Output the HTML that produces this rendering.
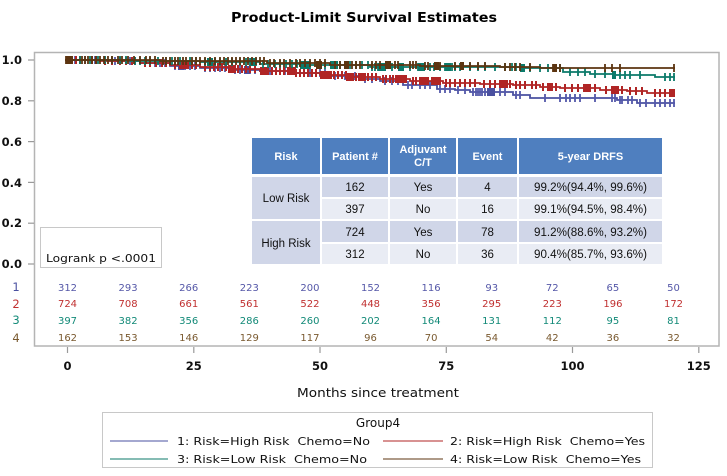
<!DOCTYPE html>
<html><head><meta charset="utf-8"><style>
html,body{margin:0;padding:0;background:#fff;width:727px;height:476px;overflow:hidden}
svg{display:block}
.t{font-family:"DejaVu Sans","Liberation Sans",sans-serif}
.tb{font-family:"Liberation Sans","DejaVu Sans",sans-serif}
text{white-space:pre}
</style></head><body>
<svg width="727" height="476" viewBox="0 0 727 476" xmlns="http://www.w3.org/2000/svg">
<text class="t" x="364" y="22" text-anchor="middle" font-size="13" font-weight="bold" textLength="266" lengthAdjust="spacingAndGlyphs">Product-Limit Survival Estimates</text>

<rect x="34.5" y="52.5" width="684.5" height="293.5" fill="none" stroke="#b4b4b4" stroke-width="1.5"/>

<g stroke="#9a9a9a" stroke-width="1.2">
<line x1="28" y1="60" x2="34" y2="60"/>
<line x1="28" y1="100.8" x2="34" y2="100.8"/>
<line x1="28" y1="141.6" x2="34" y2="141.6"/>
<line x1="28" y1="182.4" x2="34" y2="182.4"/>
<line x1="28" y1="223.2" x2="34" y2="223.2"/>
<line x1="28" y1="264" x2="34" y2="264"/>
</g>
<g class="t" font-size="11.5" font-weight="bold" text-anchor="end" fill="#111">
<text x="22" y="64">1.0</text>
<text x="22" y="105">0.8</text>
<text x="22" y="146">0.6</text>
<text x="22" y="187">0.4</text>
<text x="22" y="227">0.2</text>
<text x="22" y="268">0.0</text>
</g>

<g stroke="#9a9a9a" stroke-width="1.2">
<line x1="67.5" y1="347" x2="67.5" y2="353"/>
<line x1="193.8" y1="347" x2="193.8" y2="353"/>
<line x1="320" y1="347" x2="320" y2="353"/>
<line x1="446.3" y1="347" x2="446.3" y2="353"/>
<line x1="572.5" y1="347" x2="572.5" y2="353"/>
<line x1="698.8" y1="347" x2="698.8" y2="353"/>
</g>
<g class="t" font-size="11.5" font-weight="bold" text-anchor="middle" fill="#111">
<text x="67.5" y="370">0</text>
<text x="193.8" y="370">25</text>
<text x="320" y="370">50</text>
<text x="446.3" y="370">75</text>
<text x="572.5" y="370">100</text>
<text x="698.8" y="370">125</text>
</g>
<text class="t" x="378" y="397" text-anchor="middle" font-size="12.5" fill="#111" textLength="162" lengthAdjust="spacingAndGlyphs">Months since treatment</text>

<g fill="none" stroke-linejoin="miter">
<!-- 1 blue -->
<path stroke="#4a50a0" stroke-width="1.8" d="M65,60H110V61H140V63H170V66H200V68H230V70H260V71H293V73H330V76H360V79H380V81H403V85H437V89H455V90H470V92H513V95H530V98H617V100H637V103H675"/>
<path stroke="#5358aa" stroke-width="1.8" d="M67 56v8M70 56v8M75 56v8M85 56v8M95 56v8M105 56v8M115 57v8M120 57v8M130 57v8M135 57v8M145 59v8M150 59v8M155 59v8M160 59v8M165 59v8M175 62v8M180 62v8M185 62v8M190 62v8M195 62v8M205 64v8M210 64v8M215 64v8M220 64v8M225 64v8M235 66v8M240 66v8M250 66v8M255 66v8M265 67v8M270 67v8M280 67v8M285 67v8M290 67v8M300 69v8M310 69v8M320 69v8M325 69v8M335 72v8M345 72v8M355 72v8M365 75v8M372 75v8M385 77v8M392 77v8M398 77v8M408 81v8M412 81v8M420 81v8M425 81v8M430 81v8M440 85v8M445 85v8M450 85v8M458 86v8M465 86v8M473 88v8M476 88v8M478 88v8M480 88v8M482 88v8M485 88v8M490 88v8M500 88v8M505 88v8M516 91v8M520 91v8M545 94v8M560 94v8M566 94v8M570 94v8M575 94v8M580 94v8M595 94v8M612 94v8M615 94v8M620 96v8M622 96v8M628 96v8M632 96v8M640 99v8M646 99v8M655 99v8M660 99v8M665 99v8M670 99v8M674 99v8"/>
<rect x="487" y="88" width="8" height="8" fill="#4a50a0"/>
<rect x="178" y="62" width="6" height="8" fill="#4a50a0"/>
<rect x="244" y="66" width="6" height="8" fill="#4a50a0"/>
<!-- 2 red -->
<path stroke="#b02525" stroke-width="1.8" d="M65,60H100V61H140V63H170V65H200V67H230V69H260V71H293V73H320V75H350V77H380V79H410V81H443V83H480V84H513V85H540V87H560V88H600V90H627V91H647V93H675"/>
<path stroke="#b02525" stroke-width="2" d="M68 56v8M72 56v8M76 56v8M80 56v8M92 56v8M96 56v8M105 57v8M112 57v8M120 57v8M126 57v8M132 57v8M145 59v8M150 59v8M156 59v8M162 59v8M166 59v8M175 61v8M180 61v8M186 61v8M192 61v8M196 61v8M205 63v8M210 63v8M214 63v8M218 63v8M222 63v8M226 63v8M234 65v8M238 65v8M242 65v8M246 65v8M250 65v8M255 65v8M264 67v8M268 67v8M272 67v8M276 67v8M280 67v8M284 67v8M288 67v8M296 69v8M300 69v8M304 69v8M308 69v8M312 69v8M316 69v8M323 71v8M326 71v8M330 71v8M334 71v8M338 71v8M342 71v8M346 71v8M353 73v8M356 73v8M360 73v8M364 73v8M368 73v8M372 73v8M376 73v8M383 75v8M386 75v8M390 75v8M393 75v8M396 75v8M400 75v8M403 75v8M406 75v8M413 77v8M416 77v8M420 77v8M424 77v8M428 77v8M432 77v8M436 77v8M440 77v8M446 79v8M450 79v8M455 79v8M460 79v8M465 79v8M470 79v8M475 79v8M484 80v8M490 80v8M495 80v8M500 80v8M506 80v8M510 80v8M516 81v8M520 81v8M525 81v8M532 81v8M536 81v8M543 83v8M548 83v8M552 83v8M556 83v8M565 84v8M572 84v8M578 84v8M584 84v8M590 84v8M595 84v8M606 86v8M612 86v8M618 86v8M622 86v8M630 87v8M636 87v8M642 87v8M655 89v8M660 89v8M665 89v8M672 89v8M674 89v8"/>
<g fill="#b02525" stroke="none">
<rect x="320" y="71" width="12" height="8"/><rect x="346" y="73" width="8" height="8"/><rect x="358" y="73" width="8" height="8"/>
<rect x="288" y="67" width="8" height="8"/><rect x="421" y="77" width="7" height="8"/><rect x="432" y="77" width="9" height="8"/>
<rect x="500" y="80" width="8" height="8"/><rect x="547" y="83" width="6" height="8"/><rect x="669" y="89" width="6" height="8"/>
<rect x="181" y="61" width="8" height="8"/><rect x="228" y="65" width="8" height="8"/><rect x="260" y="67" width="8" height="8"/>
<rect x="395" y="75" width="10" height="8"/><rect x="585" y="84" width="6" height="8"/><rect x="612" y="86" width="7" height="8"/>
</g>
<!-- 3 teal -->
<path stroke="#0b7a6a" stroke-width="1.8" d="M65,60H130V61H200V62H260V64H300V65H370V67H520V68H563V72H590V74H615V75H655V77H675"/>
<path stroke="#0b7a6a" stroke-width="1.8" d="M68 56v8M71 56v8M80 56v8M90 56v8M98 56v8M105 56v8M112 56v8M120 56v8M126 56v8M135 57v8M140 57v8M145 57v8M150 57v8M158 57v8M166 57v8M172 57v8M180 57v8M190 57v8M196 57v8M205 58v8M210 58v8M215 58v8M220 58v8M226 58v8M232 58v8M240 58v8M246 58v8M250 58v8M256 58v8M263 60v8M268 60v8M275 60v8M280 60v8M286 60v8M292 60v8M297 60v8M305 61v8M310 61v8M318 61v8M325 61v8M335 61v8M340 61v8M345 61v8M350 61v8M356 61v8M362 61v8M368 61v8M372 63v8M375 63v8M378 63v8M385 63v8M392 63v8M400 63v8M410 63v8M418 63v8M430 63v8M434 63v8M440 63v8M445 63v8M450 63v8M452 63v8M455 63v8M460 63v8M470 63v8M478 63v8M485 63v8M495 63v8M505 63v8M512 63v8M516 63v8M522 64v8M530 64v8M540 64v8M548 64v8M555 64v8M560 64v8M570 68v8M578 68v8M585 68v8M595 70v8M605 70v8M620 71v8M625 71v8M630 71v8M640 71v8M665 73v8M670 73v8M674 73v8"/>
<g fill="#0b7a6a" stroke="none">
<rect x="300" y="61" width="10" height="8"/><rect x="330" y="61" width="8" height="8"/><rect x="378" y="63" width="8" height="8"/>
<rect x="398" y="63" width="6" height="8"/><rect x="418" y="63" width="7" height="8"/><rect x="445" y="63" width="6" height="8"/><rect x="520" y="64" width="5" height="8"/>
<rect x="207" y="58" width="6" height="8"/><rect x="250" y="58" width="6" height="8"/><rect x="612" y="71" width="4" height="8"/>
</g>
<!-- 4 brown -->
<path stroke="#5c3410" stroke-width="1.8" d="M65,60H160V61H267V63H330V65H420V66H500V67H540V68H675"/>
<path stroke="#5c3410" stroke-width="1.8" d="M66 56v8M68 56v8M70 56v8M72 56v8M82 56v8M85 56v8M88 56v8M92 56v8M96 56v8M100 56v8M104 56v8M108 56v8M112 56v8M118 56v8M122 56v8M128 56v8M134 56v8M140 56v8M146 56v8M150 56v8M155 56v8M163 57v8M166 57v8M170 57v8M175 57v8M178 57v8M183 57v8M186 57v8M192 57v8M196 57v8M200 57v8M205 57v8M210 57v8M215 57v8M220 57v8M224 57v8M228 57v8M232 57v8M236 57v8M240 57v8M244 57v8M248 57v8M252 57v8M256 57v8M260 57v8M264 57v8M270 59v8M274 59v8M280 59v8M284 59v8M290 59v8M296 59v8M300 59v8M305 59v8M310 59v8M315 59v8M320 59v8M325 59v8M335 61v8M340 61v8M345 61v8M352 61v8M356 61v8M360 61v8M372 61v8M376 61v8M380 61v8M395 61v8M398 61v8M410 61v8M413 61v8M416 61v8M425 62v8M428 62v8M440 62v8M455 62v8M462 62v8M470 62v8M478 62v8M485 62v8M505 63v8M510 63v8M515 63v8M520 63v8M530 63v8M553 64v8M560 64v8M605 64v8M612 64v8M620 64v8M674 64v8"/>
<g fill="#5c3410" stroke="none">
<rect x="316" y="61" width="6" height="8"/><rect x="344" y="61" width="5" height="8"/><rect x="385" y="61" width="6" height="8"/>
<rect x="434" y="62" width="5" height="8"/><rect x="460" y="62" width="4" height="8"/><rect x="553" y="64" width="4" height="8"/>
<rect x="66" y="56" width="6" height="8"/>
</g>
</g>

<g>
<rect x="252" y="138" width="68" height="36" fill="#4f7fbf"/>
<rect x="322" y="138" width="66" height="36" fill="#4f7fbf"/>
<rect x="390" y="138" width="66" height="36" fill="#4f7fbf"/>
<rect x="458" y="138" width="59" height="36" fill="#4f7fbf"/>
<rect x="519" y="138" width="143" height="36" fill="#4f7fbf"/>

<rect x="252" y="177" width="68" height="42" fill="#d0d6e8"/>
<rect x="252" y="221" width="68" height="43" fill="#d0d6e8"/>

<g fill="#d0d6e8">
<rect x="322" y="177" width="66" height="20"/><rect x="390" y="177" width="66" height="20"/><rect x="458" y="177" width="59" height="20"/><rect x="519" y="177" width="143" height="20"/>
<rect x="322" y="221" width="66" height="21"/><rect x="390" y="221" width="66" height="21"/><rect x="458" y="221" width="59" height="21"/><rect x="519" y="221" width="143" height="21"/>
</g>
<g fill="#e9ecf4">
<rect x="322" y="199" width="66" height="20"/><rect x="390" y="199" width="66" height="20"/><rect x="458" y="199" width="59" height="20"/><rect x="519" y="199" width="143" height="20"/>
<rect x="322" y="244" width="66" height="20"/><rect x="390" y="244" width="66" height="20"/><rect x="458" y="244" width="59" height="20"/><rect x="519" y="244" width="143" height="20"/>
</g>

<g class="tb" font-size="11" font-weight="bold" fill="#fff" text-anchor="middle">
<text x="286" y="160">Risk</text>
<text x="355" y="160">Patient #</text>
<text x="423" y="153">Adjuvant</text>
<text x="423" y="166">C/T</text>
<text x="487.5" y="160">Event</text>
<text x="590.5" y="160">5-year DRFS</text>
</g>
<g class="tb" font-size="11.5" fill="#111" text-anchor="middle">
<text x="286" y="202">Low Risk</text>
<text x="286" y="247">High Risk</text>
<text x="355" y="191">162</text>
<text x="355" y="213">397</text>
<text x="355" y="236">724</text>
<text x="355" y="258">312</text>
<text x="423" y="191">Yes</text>
<text x="423" y="213">No</text>
<text x="423" y="236">Yes</text>
<text x="423" y="258">No</text>
<text x="487.5" y="191">4</text>
<text x="487.5" y="213">16</text>
<text x="487.5" y="236">78</text>
<text x="487.5" y="258">36</text>
<text x="590.5" y="191" textLength="113" lengthAdjust="spacingAndGlyphs">99.2%(94.4%, 99.6%)</text>
<text x="590.5" y="213" textLength="113" lengthAdjust="spacingAndGlyphs">99.1%(94.5%, 98.4%)</text>
<text x="590.5" y="236" textLength="113" lengthAdjust="spacingAndGlyphs">91.2%(88.6%, 93.2%)</text>
<text x="590.5" y="258" textLength="113" lengthAdjust="spacingAndGlyphs">90.4%(85.7%, 93.6%)</text>
</g>
</g>

<rect x="40.5" y="227.5" width="121" height="40" fill="#fff" stroke="#c8c8c8" stroke-width="1"/>
<text class="t" x="46" y="262" font-size="11" fill="#111" textLength="110" lengthAdjust="spacingAndGlyphs">Logrank p &lt;.0001</text>

<g class="t" font-size="11.5" text-anchor="middle">
<text x="16" y="291" fill="#4a50a0">1</text>
<text x="16" y="308" fill="#c03030">2</text>
<text x="16" y="324" fill="#138a78">3</text>
<text x="16" y="342" fill="#7a5a30">4</text>
</g>
<g class="t" font-size="10" text-anchor="middle">
<g fill="#5558a8">
<text x="67.5" y="291">312</text><text x="128.1" y="291">293</text><text x="188.7" y="291">266</text><text x="249.3" y="291">223</text><text x="309.9" y="291">200</text><text x="370.5" y="291">152</text><text x="431.1" y="291">116</text><text x="491.7" y="291">93</text><text x="552.3" y="291">72</text><text x="612.9" y="291">65</text><text x="673.5" y="291">50</text>
</g>
<g fill="#c03030">
<text x="67.5" y="307">724</text><text x="128.1" y="307">708</text><text x="188.7" y="307">661</text><text x="249.3" y="307">561</text><text x="309.9" y="307">522</text><text x="370.5" y="307">448</text><text x="431.1" y="307">356</text><text x="491.7" y="307">295</text><text x="552.3" y="307">223</text><text x="612.9" y="307">196</text><text x="673.5" y="307">172</text>
</g>
<g fill="#138a78">
<text x="67.5" y="324">397</text><text x="128.1" y="324">382</text><text x="188.7" y="324">356</text><text x="249.3" y="324">286</text><text x="309.9" y="324">260</text><text x="370.5" y="324">202</text><text x="431.1" y="324">164</text><text x="491.7" y="324">131</text><text x="552.3" y="324">112</text><text x="612.9" y="324">95</text><text x="673.5" y="324">81</text>
</g>
<g fill="#7a5a30">
<text x="67.5" y="341">162</text><text x="128.1" y="341">153</text><text x="188.7" y="341">146</text><text x="249.3" y="341">129</text><text x="309.9" y="341">117</text><text x="370.5" y="341">96</text><text x="431.1" y="341">70</text><text x="491.7" y="341">54</text><text x="552.3" y="341">42</text><text x="612.9" y="341">36</text><text x="673.5" y="341">32</text>
</g>
</g>

<rect x="102.5" y="412.5" width="550" height="55" fill="#fff" stroke="#c8c8c8" stroke-width="1"/>
<text class="t" x="378" y="427" text-anchor="middle" font-size="12" fill="#111">Group4</text>
<line x1="110" y1="441" x2="168" y2="441" stroke="#4a50a0" stroke-width="1"/>
<line x1="383" y1="441" x2="443" y2="441" stroke="#b02525" stroke-width="1"/>
<line x1="110" y1="459" x2="168" y2="459" stroke="#0b7a6a" stroke-width="1"/>
<line x1="383" y1="459" x2="443" y2="459" stroke="#5c3410" stroke-width="1"/>
<g class="t" font-size="11" fill="#111">
<text x="177" y="445" textLength="193" lengthAdjust="spacingAndGlyphs">1: Risk=High Risk  Chemo=No</text>
<text x="450" y="445" textLength="195" lengthAdjust="spacingAndGlyphs">2: Risk=High Risk  Chemo=Yes</text>
<text x="177" y="463" textLength="190" lengthAdjust="spacingAndGlyphs">3: Risk=Low Risk  Chemo=No</text>
<text x="450" y="463" textLength="191" lengthAdjust="spacingAndGlyphs">4: Risk=Low Risk  Chemo=Yes</text>
</g>
</svg>
</body></html>
